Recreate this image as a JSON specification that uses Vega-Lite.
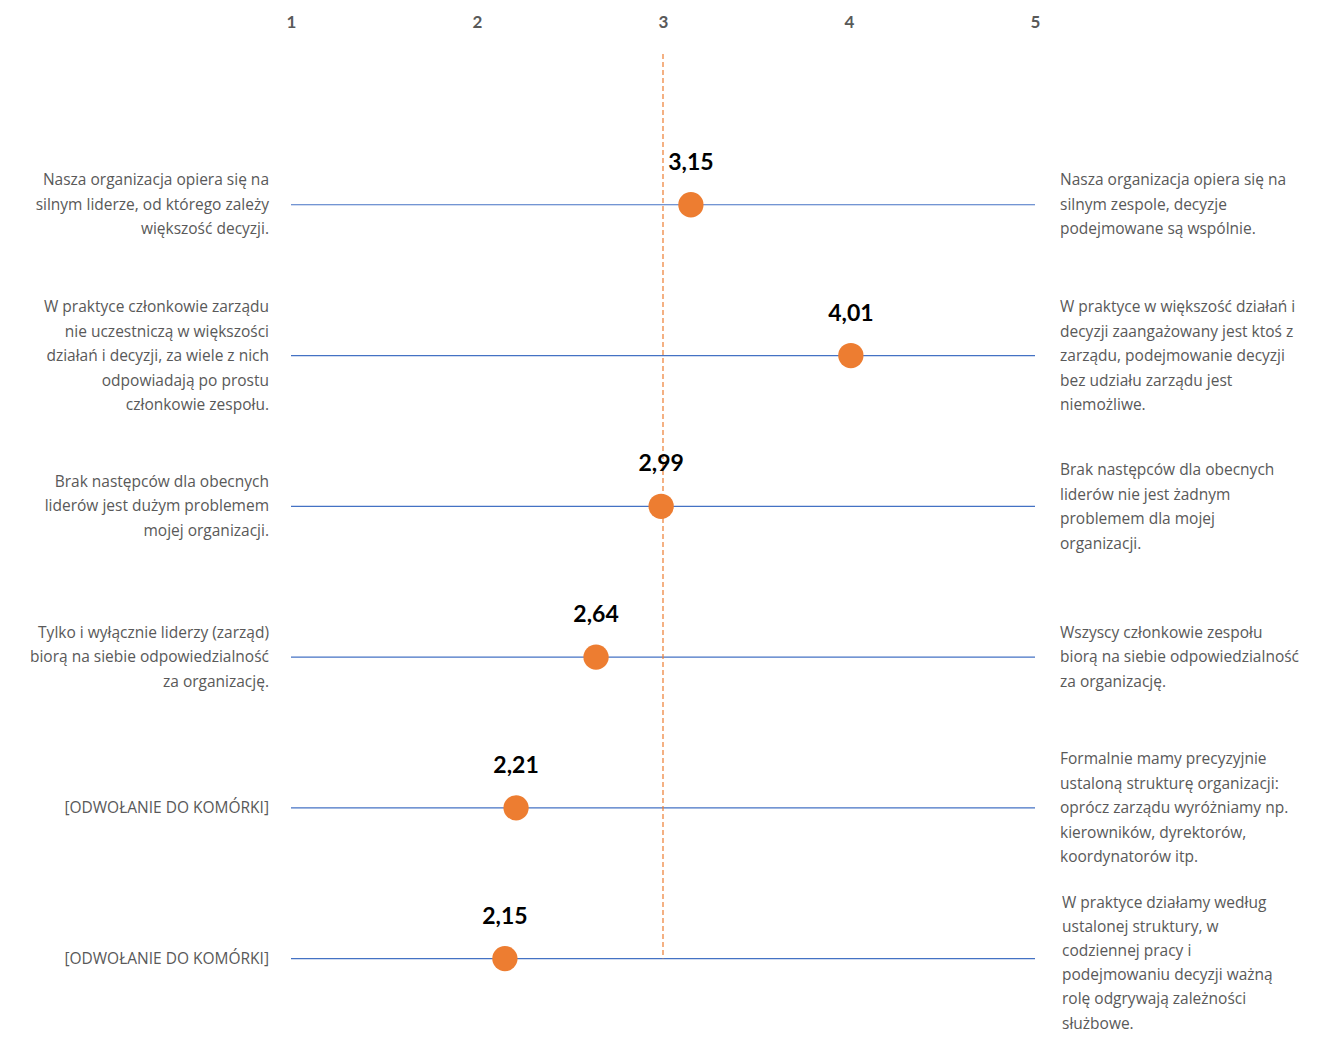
{
  "$schema": "https://vega.github.io/schema/vega-lite/v6.json",
  "autosize": {"type": "none"},
  "padding": {"left": 291, "top": 54, "right": 292, "bottom": 5},
  "width": 744,
  "height": 980,
  "config": {
    "view": {"stroke": null},
    "font": "Open Sans",
    "locale": {"number": {"decimal": ",", "thousands": " ", "grouping": [3], "currency": ["", " zł"]}}
  },
  "data": {
    "values": [
      {"pos": 1, "value": 3.15, "left": "Nasza organizacja opiera się na\nsilnym liderze, od którego zależy\nwiększość decyzji.", "right": "Nasza organizacja opiera się na\nsilnym zespole, decyzje\npodejmowane są wspólnie."},
      {"pos": 2, "value": 4.01, "left": "W praktyce członkowie zarządu\nnie uczestniczą w większości\ndziałań i decyzji, za wiele z nich\nodpowiadają po prostu\nczłonkowie zespołu.", "right": "W praktyce w większość działań i\ndecyzji zaangażowany jest ktoś z\nzarządu, podejmowanie decyzji\nbez udziału zarządu jest\nniemożliwe."},
      {"pos": 3, "value": 2.99, "left": "Brak następców dla obecnych\nliderów jest dużym problemem\nmojej organizacji.", "right": "Brak następców dla obecnych\nliderów nie jest żadnym\nproblemem dla mojej\norganizacji."},
      {"pos": 4, "value": 2.64, "left": "Tylko i wyłącznie liderzy (zarząd)\nbiorą na siebie odpowiedzialność\nza organizację.", "right": "Wszyscy członkowie zespołu\nbiorą na siebie odpowiedzialność\nza organizację."},
      {"pos": 5, "value": 2.21, "left": "[ODWOŁANIE DO KOMÓRKI]", "right": "Formalnie mamy precyzyjnie\nustaloną strukturę organizacji:\noprócz zarządu wyróżniamy np.\nkierowników, dyrektorów,\nkoordynatorów itp."},
      {"pos": 6, "value": 2.15, "left": "[ODWOŁANIE DO KOMÓRKI]", "right": "W praktyce działamy według\nustalonej struktury, w\ncodziennej pracy i\npodejmowaniu decyzji ważną\nrolę odgrywają zależności\nsłużbowe."}
    ]
  },
  "layer": [
    {
      "mark": {"type": "rule", "color": "#4472C4", "strokeWidth": 1.2},
      "encoding": {
        "x": {"datum": 1, "type": "quantitative", "scale": {"domain": [1, 5], "nice": false, "zero": false},
          "axis": {"orient": "top", "values": [1, 2, 3, 4, 5], "domain": false, "ticks": false, "grid": false, "title": null,
            "labelPadding": 23, "labelFlush": false, "labelFont": "Lato", "labelFontSize": 17, "labelColor": "#595959", "labelFontWeight": "bold", "format": "d"}},
        "x2": {"datum": 5},
        "y": {"field": "pos", "type": "quantitative", "scale": {"domain": [0, 6.5], "nice": false, "zero": false, "reverse": true}, "axis": null}
      }
    },
    {
      "data": {"values": [{"x": 3, "y0": 0, "y1": 6}]},
      "mark": {"type": "rule", "color": "#ED7D31", "strokeWidth": 1.2, "strokeDash": [5, 3]},
      "encoding": {
        "x": {"field": "x", "type": "quantitative"},
        "y": {"field": "y0", "type": "quantitative"},
        "y2": {"field": "y1"}
      }
    },
    {
      "mark": {"type": "circle", "color": "#ED7D31", "opacity": 1, "size": 640},
      "encoding": {
        "x": {"field": "value", "type": "quantitative"},
        "y": {"field": "pos", "type": "quantitative"}
      }
    },
    {
      "mark": {"type": "text", "font": "Lato", "fontSize": 23, "fontWeight": "bold", "color": "#000000", "dy": -42, "baseline": "middle", "align": "center"},
      "encoding": {
        "x": {"field": "value", "type": "quantitative"},
        "y": {"field": "pos", "type": "quantitative"},
        "text": {"field": "value", "type": "quantitative", "format": ".2f"}
      }
    },
    {
      "transform": [{"filter": "length(split(datum.left, '\\n')) == 1"}],
      "mark": {"type": "text", "fontSize": 15.5, "color": "#595959", "align": "right", "baseline": "middle", "dx": -22, "lineBreak": "\n", "lineHeight": 24.5},
      "encoding": {
        "x": {"datum": 1, "type": "quantitative"},
        "y": {"field": "pos", "type": "quantitative"},
        "text": {"field": "left"}
      }
    },
    {
      "transform": [{"filter": "length(split(datum.left, '\\n')) == 3"}],
      "mark": {"type": "text", "fontSize": 15.5, "color": "#595959", "align": "right", "baseline": "middle", "dx": -22, "dy": -24.5, "lineBreak": "\n", "lineHeight": 24.5},
      "encoding": {
        "x": {"datum": 1, "type": "quantitative"},
        "y": {"field": "pos", "type": "quantitative"},
        "text": {"field": "left"}
      }
    },
    {
      "transform": [{"filter": "length(split(datum.left, '\\n')) == 5"}],
      "mark": {"type": "text", "fontSize": 15.5, "color": "#595959", "align": "right", "baseline": "middle", "dx": -22, "dy": -48.5, "lineBreak": "\n", "lineHeight": 24.5},
      "encoding": {
        "x": {"datum": 1, "type": "quantitative"},
        "y": {"field": "pos", "type": "quantitative"},
        "text": {"field": "left"}
      }
    },
    {
      "transform": [{"filter": "length(split(datum.right, '\\n')) == 3"}],
      "mark": {"type": "text", "fontSize": 15.5, "color": "#595959", "align": "left", "baseline": "middle", "dx": 25, "dy": -24.5, "lineBreak": "\n", "lineHeight": 24.5},
      "encoding": {
        "x": {"datum": 5, "type": "quantitative"},
        "y": {"field": "pos", "type": "quantitative"},
        "text": {"field": "right"}
      }
    },
    {
      "transform": [{"filter": "length(split(datum.right, '\\n')) == 4"}],
      "mark": {"type": "text", "fontSize": 15.5, "color": "#595959", "align": "left", "baseline": "middle", "dx": 25, "dy": -36, "lineBreak": "\n", "lineHeight": 24.5},
      "encoding": {
        "x": {"datum": 5, "type": "quantitative"},
        "y": {"field": "pos", "type": "quantitative"},
        "text": {"field": "right"}
      }
    },
    {
      "transform": [{"filter": "length(split(datum.right, '\\n')) == 5"}],
      "mark": {"type": "text", "fontSize": 15.5, "color": "#595959", "align": "left", "baseline": "middle", "dx": 25, "dy": -48.5, "lineBreak": "\n", "lineHeight": 24.5},
      "encoding": {
        "x": {"datum": 5, "type": "quantitative"},
        "y": {"field": "pos", "type": "quantitative"},
        "text": {"field": "right"}
      }
    },
    {
      "transform": [{"filter": "length(split(datum.right, '\\n')) == 6"}],
      "mark": {"type": "text", "fontSize": 15.5, "color": "#595959", "align": "left", "baseline": "middle", "dx": 27, "dy": -56, "lineBreak": "\n", "lineHeight": 24.2},
      "encoding": {
        "x": {"datum": 5, "type": "quantitative"},
        "y": {"field": "pos", "type": "quantitative"},
        "text": {"field": "right"}
      }
    }
  ]
}
